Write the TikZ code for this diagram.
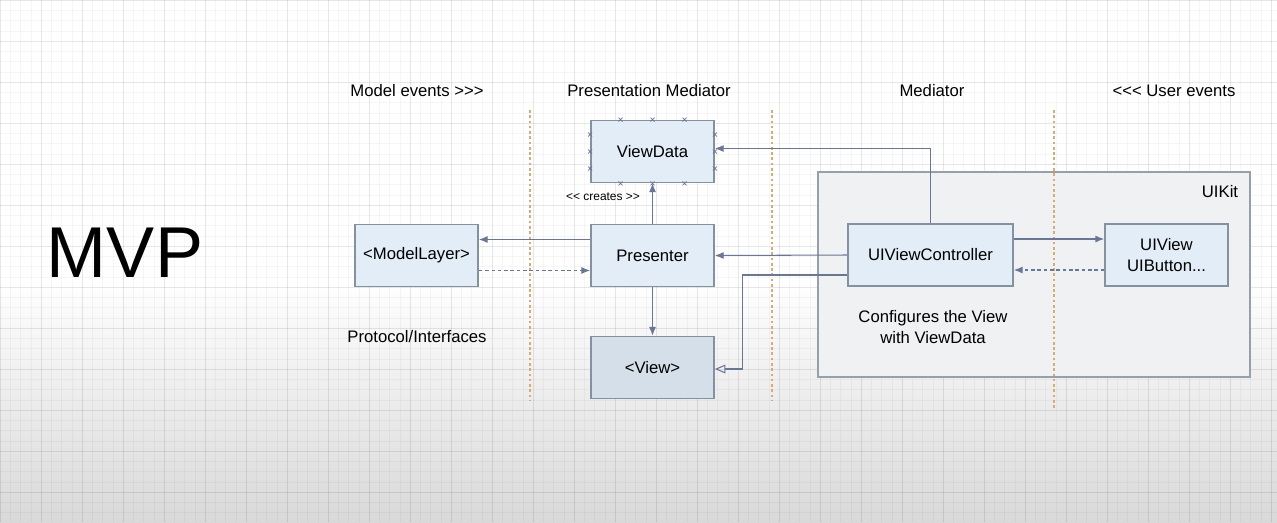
\documentclass[tikz,border=0pt]{standalone}
\usepackage{fontspec}
\setmainfont{Liberation Sans}
\usetikzlibrary{calc, arrows.meta, positioning}

\begin{document}
\begin{tikzpicture}[x=0.02cm, y=-0.02cm,
	every node/.style={font=\fontsize{9.5}{11.5}\selectfont},
	box/.style={draw=boxline, fill=boxfill, line width=1pt, minimum width=2.46cm, minimum height=1.24cm, align=center, inner sep=0pt},
	link/.style={draw=arrowc, line width=0.6pt, -{Latex[length=5pt,width=4pt]}},
	back/.style={link, dash pattern=on 2pt off 1.6pt},
	divider/.style={draw=divc, line width=0.8pt, dash pattern=on 1.5pt off 1.5pt},
	handle/.style={draw=arrowc, line width=0.4pt},
	gridmin/.style={draw=black, draw opacity=0.035, line width=0.25pt},
	gridmaj/.style={draw=black, draw opacity=0.06, line width=0.35pt}]
	%\draw[opacity=0.1] (0,0) grid (1277,522);

	\definecolor{boxfill}{RGB}{226,237,247};
	\definecolor{viewfill}{RGB}{212,223,234};
	\definecolor{boxline}{RGB}{132,146,160};
	\definecolor{arrowc}{RGB}{104,118,152};
	\definecolor{divc}{RGB}{214,172,112};
	\definecolor{kitfill}{RGB}{239,241,243};
	\definecolor{kitline}{RGB}{150,160,170};

	\useasboundingbox (0,0) rectangle (1277,522);

%%%%     FOND     %%%%

	\fill[white] (0,0) rectangle (1277,522);
	\shade[top color=white, bottom color=gray!30] (0,280) rectangle (1277,522);
	\foreach \gx in {0,10.25,...,1277} \draw[gridmin] (\gx,0) -- (\gx,522);
	\foreach \gy in {0,10.25,...,522} \draw[gridmin] (0,\gy) -- (1277,\gy);
	\foreach \gx in {0,41,...,1277} \draw[gridmaj] (\gx,0) -- (\gx,522);
	\foreach \gy in {0,41,...,522} \draw[gridmaj] (0,\gy) -- (1277,\gy);

	% separateurs
	\draw[divider] (530,110) -- (530,400);
	\draw[divider] (772,110) -- (772,400);

%%%%     TITRES     %%%%

	\node[font=\fontsize{41}{45}\selectfont] (mvp) at (125,253) {MVP};

	\node (mevents) at (417,91) {Model events >{}>{}>};
	\node (pmed) at (649,91) {Presentation Mediator};
	\node (med) at (932,91) {Mediator};
	\node (uevents) at (1174,91) {<{}<{}< User events};
	\node (proto) at (417,337) {Protocol/Interfaces};

%%%%     UIKIT     %%%%

	\node[draw=kitline, fill=kitfill, line width=1pt, minimum width=8.64cm, minimum height=4.1cm, inner sep=0pt] (uikit) at (1034,274.5) {};
	\node (uikitlbl) at (1220,192) {UIKit};
	\draw[divider] (1054,110) -- (1054,410);

%%%%     BOITES     %%%%

	\node[box] (vdata) at (652.5,151.5) {ViewData};
	\node[box] (pres) at (652.5,255.5) {Presenter};
	\node[box] (model) at (416.5,255.5) {<ModelLayer>};
	\node[box, fill=viewfill] (view) at (652.5,367.5) {<View>};
	\node[box, minimum width=3.3cm] (uivc) at (930.5,255) {UIViewController};
	\node[box] (uiview) at (1166.5,255) {UIView\\UIButton...};

	\node (config) at (933,327) [align=center] {Configures the View\\with ViewData};
	\node[font=\fontsize{6.8}{8}\selectfont] (creates) at (603,197) {<{}< creates >{}>};

	% poignees de ViewData
	\foreach \dx in {-32,0,32} {
		\draw[handle] ($(vdata.north)+(\dx,0)$) +(-2,-2) -- +(2,2) +(-2,2) -- +(2,-2);
		\draw[handle] ($(vdata.south)+(\dx,0)$) +(-2,-2) -- +(2,2) +(-2,2) -- +(2,-2);
	}
	\foreach \dy in {-17,0,17} {
		\draw[handle] ($(vdata.west)+(0,\dy)$) +(-2,-2) -- +(2,2) +(-2,2) -- +(2,-2);
		\draw[handle] ($(vdata.east)+(0,\dy)$) +(-2,-2) -- +(2,2) +(-2,2) -- +(2,-2);
	}

%%%%     FLECHES     %%%%

	% presenter <-> model
	\draw[link] ($(pres.west)+(0,-16)$) -- ($(model.east)+(0,-16)$);
	\draw[back] ($(model.east)+(0,15)$) -- ($(pres.west)+(0,15)$);

	% presenter -> viewdata, view
	\draw[link] (pres) -- (vdata);
	\draw[link] (pres) -- (view);

	% controller
	\draw[link] (uivc.north) |- ($(vdata.east)+(0,-3)$);
	\draw[link] (uivc.west) -- (pres.east);
	\draw[draw=arrowc, line width=0.6pt, -{Triangle[open, length=6pt, width=5pt]}] ($(uivc.west)+(0,20)$) -- ++(-105,0) |- ($(view.east)+(0,1.5)$);

	% controller <-> uiview
	\draw[link] ($(uivc.east)+(0,-16)$) -- ($(uiview.west)+(0,-16)$);
	\draw[back] ($(uiview.west)+(0,15)$) -- ($(uivc.east)+(0,15)$);

\end{tikzpicture}
\end{document}
